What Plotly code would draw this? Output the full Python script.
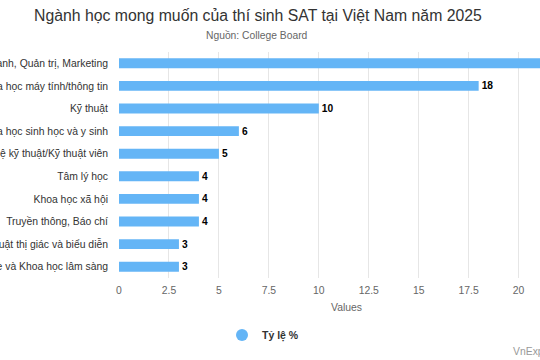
import plotly.graph_objects as go

categories = [
    "Kinh doanh, Quản trị, Marketing",
    "Khoa học máy tính/thông tin",
    "Kỹ thuật",
    "Khoa học sinh học và y sinh",
    "Công nghệ kỹ thuật/Kỹ thuật viên",
    "Tâm lý học",
    "Khoa học xã hội",
    "Truyền thông, Báo chí",
    "Nghệ thuật thị giác và biểu diễn",
    "Sức khỏe và Khoa học lâm sàng",
]
values = [23, 18, 10, 6, 5, 4, 4, 4, 3, 3]
series_name = "Tỷ lệ %"
x_ticks = [0, 2.5, 5, 7.5, 10, 12.5, 15, 17.5, 20]

BAR = "#64b5f6"
FONT = "Liberation Sans, Arial, Helvetica, sans-serif"
W, H = 540, 360
L, R, T, B = 119, 0, 52, 82
PW, PH = W - L - R, H - T - B


def px(xp):
    return (xp - L) / PW


def py(yp):
    return (H - B - yp) / PH


fig = go.Figure()
fig.add_trace(go.Bar(
    y=categories, x=values, orientation="h",
    marker=dict(color=BAR, line=dict(width=0)),
    width=0.44,
    text=[str(v) for v in values], textposition="outside",
    constraintext="none",
    textfont=dict(family=FONT, size=10.2, color="#000000", weight="bold"),
    cliponaxis=True, showlegend=False, name=series_name,
))
fig.add_trace(go.Scatter(
    x=[None], y=[None], mode="markers", name=series_name,
    marker=dict(symbol="circle", size=10.5, color=BAR),
))

fig.update_layout(
    width=W, height=H,
    margin=dict(l=L, r=R, t=T, b=B, autoexpand=False),
    paper_bgcolor="white", plot_bgcolor="white",
    font=dict(family=FONT, color="#333333"),
    xaxis=dict(
        range=[0, 21.07], tickvals=x_ticks, ticktext=[f"{t:g}" for t in x_ticks],
        showgrid=True, gridcolor="#e6e6e6", gridwidth=1, zeroline=False,
        showline=False, ticks="", tickfont=dict(size=10.4, color="#666666"),
        ticklabelstandoff=5, fixedrange=True,
    ),
    yaxis=dict(
        autorange="reversed", automargin=False, showgrid=False, zeroline=False,
        showline=False, ticks="", tickfont=dict(size=10.4, color="#333333"),
        ticklabelstandoff=10,
    ),
    showlegend=True,
    legend=dict(
        orientation="h", x=222 / W, xref="container", xanchor="left",
        y=(H - 335) / H, yref="container", yanchor="middle",
        font=dict(size=10.5, color="#333333", weight="bold"),
        itemsizing="constant",
    ),
    annotations=[
        dict(text="Ngành học mong muốn của thí sinh SAT tại Việt Nam năm 2025",
             x=px(258), y=py(16), xref="paper", yref="paper",
             xanchor="center", yanchor="middle", showarrow=False,
             font=dict(size=15.8, color="#333333")),
        dict(text="Nguồn: College Board", x=px(257), y=py(36),
             xref="paper", yref="paper", xanchor="center", yanchor="middle",
             showarrow=False, font=dict(size=10.3, color="#666666")),
        dict(text="Values", x=px(346), y=py(307),
             xref="paper", yref="paper", xanchor="center", yanchor="middle",
             showarrow=False, font=dict(size=10.4, color="#666666")),
        dict(text="VnExpress", x=px(511), y=py(351),
             xref="paper", yref="paper", xanchor="left", yanchor="middle",
             showarrow=False, font=dict(size=10.4, color="#999999")),
    ],
)

fig.write_html("out.html")
